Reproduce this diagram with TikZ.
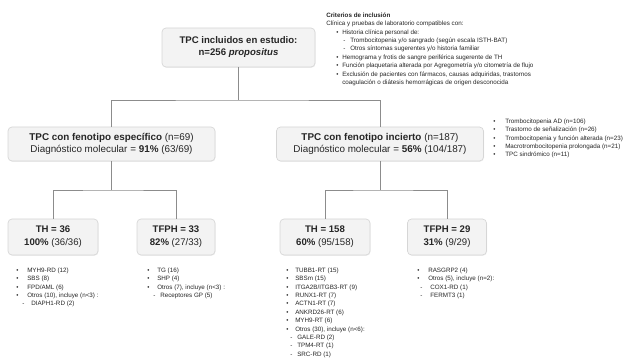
\documentclass[tikz,border=0pt]{standalone}
\usepackage{fontspec}
\setmainfont{Liberation Sans}
\usetikzlibrary{shadows}
\definecolor{boxfill}{HTML}{F3F3F3}
\definecolor{boxline}{HTML}{D6D6D6}
\definecolor{linkgray}{HTML}{8C8C8C}
\definecolor{txt}{HTML}{262626}
\newcommand{\itm}[2][8.25pt]{\makebox[#1][l]{•}#2}
\newcommand{\subitm}[2][6.75pt]{\makebox[#1][l]{-}#2}

\begin{document}
\begin{tikzpicture}
  [
  x=0.75pt, y=-0.75pt, text=txt,
  box/.style={rectangle, rounded corners=3pt, draw=boxline, fill=boxfill, line width=0.5pt, align=center, inner sep=0pt,
    drop shadow={opacity=0.12, shadow xshift=0.4pt, shadow yshift=-0.6pt}},
  topbox/.style={box, font=\fontsize{7.2}{9}\selectfont\bfseries, minimum width=114.75pt, minimum height=29.25pt},
  midbox/.style={box, font=\fontsize{7.4}{8.4}\selectfont, minimum width=155.25pt, minimum height=25.5pt},
  leafbox/.style={box, font=\fontsize{7.2}{9.6}\selectfont, minimum width=67.5pt, minimum height=27pt},
  lst/.style={anchor=north west, align=left, inner sep=0pt, font=\fontsize{4.7}{6.3}\selectfont},
  link/.style={draw=linkgray, line width=0.6pt}
  ]

\useasboundingbox (0,0) rectangle (638,363);

% boxes
\node[topbox] (incl) at (238.5,47.5) {TPC incluidos en estudio:\\ n=256 \textit{propositus}};
\node[midbox] (espec) at (111.5,144) {\textbf{TPC con fenotipo específico} (n=69)\\ Diagnóstico molecular = \textbf{91\%} (63/69)};
\node[midbox] (incie) at (380,144) {\textbf{TPC con fenotipo incierto} (n=187)\\ Diagnóstico molecular = \textbf{56\%} (104/187)};

\node[leafbox] (th36) at (53,237) {\textbf{TH = 36}\\ \textbf{100\%} (36/36)};
\node[leafbox, minimum width=58.5pt] (tf33) at (176,237) {\textbf{TFPH = 33}\\ \textbf{82\%} (27/33)};
\node[leafbox] (th158) at (325,237) {\textbf{TH = 158}\\ \textbf{60\%} (95/158)};
\node[leafbox, minimum width=59.25pt] (tf29) at (447,237) {\textbf{TFPH = 29}\\ \textbf{31\%} (9/29)};

% connectors
\coordinate (j1) at (238.5,100);
\coordinate (j2) at (111.5,190);
\coordinate (j3) at (380,190);
\draw[link] (incl) -- (j1);
\draw[link] (espec.north) |- (j1) -| (incie.north);
\draw[link] (espec) -- (j2);
\draw[link] (th36.north) |- (j2) -| (tf33.north);
\draw[link] (incie) -- (j3);
\draw[link] (th158.north) |- (j3) -| (tf29.north);

% lists
\node[lst] (crit) at (326,12.5) {\textbf{Criterios de inclusión}\\
  Clínica y pruebas de laboratorio compatibles con:\\
  \hspace*{7.5pt}\itm[4.5pt]{Historia clínica personal de:}\\
  \hspace*{12.75pt}\subitm[5.25pt]{Trombocitopenia y/o sangrado (según escala ISTH-BAT)}\\
  \hspace*{12.75pt}\subitm[5.25pt]{Otros síntomas sugerentes y/o historia familiar}\\
  \hspace*{7.5pt}\itm[4.5pt]{Hemograma y frotis de sangre periférica sugerente de TH}\\
  \hspace*{7.5pt}\itm[4.5pt]{Función plaquetaria alterada por Agregometría y/o citometría de flujo}\\
  \hspace*{7.5pt}\itm[4.5pt]{Exclusión de pacientes con fármacos, causas adquiridas, trastornos}\\
  \hspace*{12pt}coagulación o diátesis hemorrágicas de origen desconocida};

\node[lst] (incielst) at (493,118.5) {\itm[9pt]{Trombocitopenia AD (n=106)}\\
  \itm[9pt]{Trastorno de señalización (n=26)}\\
  \itm[9pt]{Trombocitopenia y función alterada (n=23)}\\
  \itm[9pt]{Macrotrombocitopenia prolongada (n=21)}\\
  \itm[9pt]{TPC sindrómico (n=11)}};

\node[lst] (th36lst) at (16,267.5) {\itm{MYH9-RD (12)}\\
  \itm{SBS (8)}\\
  \itm{FPD/AML (6)}\\
  \itm{Otros (10), incluye (n<3) :}\\
  \hspace*{4.5pt}\subitm{DIAPH1-RD (2)}};

\node[lst] (tf33lst) at (147,267.5) {\itm[7.5pt]{TG (16)}\\
  \itm[7.5pt]{SHP (4)}\\
  \itm[7.5pt]{Otros (7), incluye (n<3) :}\\
  \hspace*{4.5pt}\subitm[5.25pt]{Receptores GP (5)}};

\node[lst] (th158lst) at (286,267.5) {\itm[6.75pt]{TUBB1-RT (15)}\\
  \itm[6.75pt]{SBSm (15)}\\
  \itm[6.75pt]{ITGA2B/ITGB3-RT (9)}\\
  \itm[6.75pt]{RUNX1-RT (7)}\\
  \itm[6.75pt]{ACTN1-RT (7)}\\
  \itm[6.75pt]{ANKRD26-RT (6)}\\
  \itm[6.75pt]{MYH9-RT (6)}\\
  \itm[6.75pt]{Otros (30), incluye (n<6):}\\
  \hspace*{3pt}\subitm[5.25pt]{GALE-RD (2)}\\
  \hspace*{3pt}\subitm[5.25pt]{TPM4-RT (1)}\\
  \hspace*{3pt}\subitm[5.25pt]{SRC-RD (1)}};

\node[lst] (tf29lst) at (417,267.5) {\itm{RASGRP2 (4)}\\
  \itm{Otros (5), incluye (n=2):}\\
  \hspace*{2.25pt}\subitm[7.5pt]{COX1-RD (1)}\\
  \hspace*{2.25pt}\subitm[7.5pt]{FERMT3 (1)}};

\end{tikzpicture}
\end{document}
